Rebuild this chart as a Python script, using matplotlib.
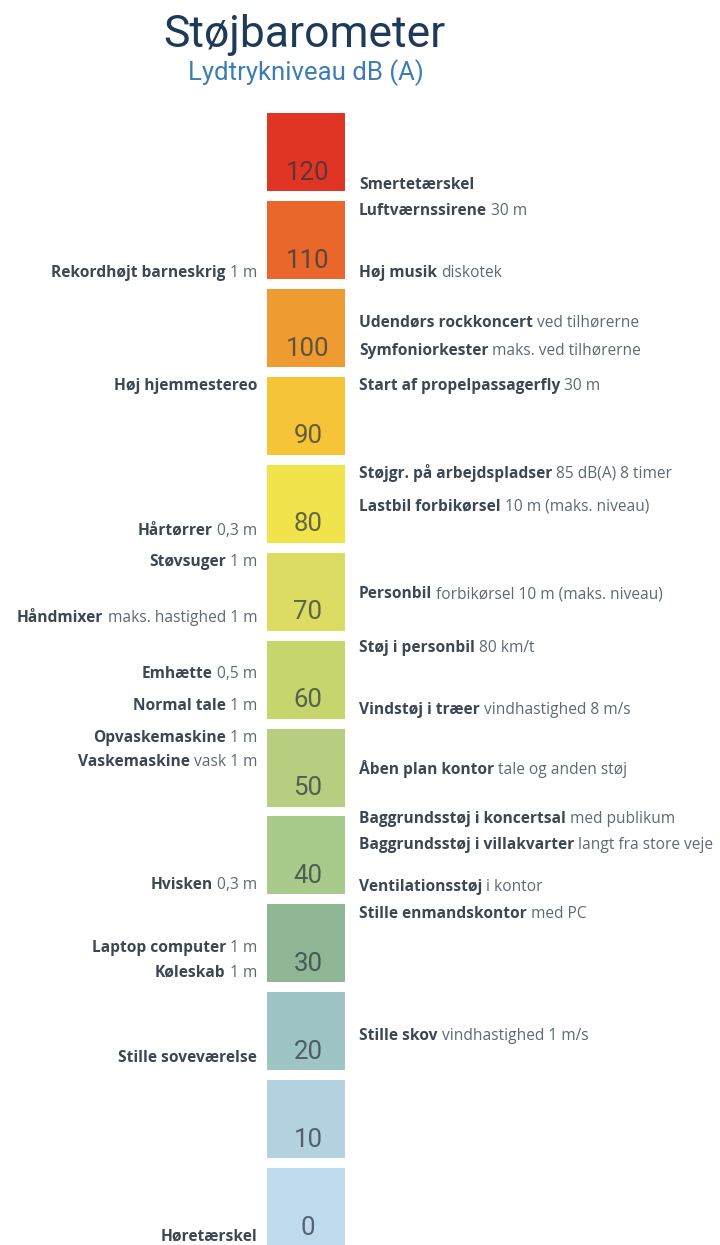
#!/usr/bin/env python3

import matplotlib
matplotlib.use("Agg")
import matplotlib.pyplot as plt

#-------------------------------------------------------------
# data
levels = [0, 10, 20, 30, 40, 50, 60, 70, 80, 90, 100, 110, 120]
levelColors = ["#c1dbee", "#b4d1df", "#9fc4c5", "#8fb795", "#a8cb8b",
               "#b7cd80", "#c6d66d", "#dcdc63", "#f1e34b", "#f5c437",
               "#ee9b31", "#e9672a", "#e03524"]

rightBold = ["Smertetærskel", "Luftværnssirene", "Høj musik",
             "Udendørs rockkoncert", "Symfoniorkester",
             "Start af propelpassagerfly", "Støjgr. på arbejdspladser",
             "Lastbil forbikørsel", "Personbil", "Støj i personbil",
             "Vindstøj i træer", "Åben plan kontor",
             "Baggrundsstøj i koncertsal", "Baggrundsstøj i villakvarter",
             "Ventilationsstøj", "Stille enmandskontor", "Stille skov"]
rightNormal = ["", "30 m", "diskotek", "ved tilhørerne",
               "maks. ved tilhørerne", "30 m", "85 dB(A) 8 timer",
               "10 m (maks. niveau)", "forbikørsel 10 m (maks. niveau)",
               "80 km/t", "vindhastighed 8 m/s", "tale og anden støj",
               "med publikum", "langt fra store veje", "i kontor",
               "med PC", "vindhastighed 1 m/s"]
rightDb = [120.2, 117.3, 110.2, 104.6, 101.4, 97.4, 87.4, 83.7, 73.7,
           67.6, 60.5, 53.7, 48.1, 45.2, 40.4, 37.3, 23.4]

leftBold = ["Rekordhøjt barneskrig", "Høj hjemmestereo", "Hårtørrer",
            "Støvsuger", "Håndmixer", "Emhætte", "Normal tale",
            "Opvaskemaskine", "Vaskemaskine", "Hvisken",
            "Laptop computer", "Køleskab", "Stille soveværelse",
            "Høretærskel"]
leftNormal = ["1 m", "", "0,3 m", "1 m", "maks. hastighed 1 m", "0,5 m",
              "1 m", "1 m", "vask 1 m", "0,3 m", "1 m", "1 m", "", ""]
leftDb = [110.2, 97.4, 80.9, 77.4, 71.0, 64.6, 61.0, 57.3, 54.6, 40.6,
          33.4, 30.6, 20.9, 0.6]

title = "Støjbarometer"
subtitle = "Lydtrykniveau dB (A)"

#-------------------------------------------------------------
FONT = "Open Sans"
LABEL_SIZE = 11.2
BOLD_COLOR = "#3b4752"
NORMAL_COLOR = "#5d6a73"
PX_PER_DB = 8.79


def main():
    fig = plt.figure(figsize=(7.2, 12.45), dpi=100)
    ax = fig.add_axes([0, 0, 1, 1])
    ax.set_xlim(0, 720)
    ax.set_ylim(1.0 / PX_PER_DB, 1246.0 / PX_PER_DB)
    ax.axis("off")

    #barometer blocks
    ax.bar([306] * len(levels), [78 / PX_PER_DB] * len(levels),
           bottom=levels, width=78, color=levelColors, align="center")
    for lv in levels:
        ax.text(308, lv + 2.1, str(lv), ha="center", va="center",
                fontsize=18.5, family="Roboto", color="#2b3640", alpha=0.72)

    #titles
    ax.text(304, 141.75 - 35 / PX_PER_DB, title, ha="center", va="center",
            fontsize=32, family="Roboto", color="#1d3b58")
    ax.text(306, 141.75 - 73 / PX_PER_DB, subtitle, ha="center",
            va="center", fontsize=18.5, family="Roboto", color="#3e7db3")

    fig.canvas.draw()
    renderer = fig.canvas.get_renderer()
    inv = ax.transData.inverted()

    def widthData(t):
        bb = t.get_window_extent(renderer)
        (x0, _), (x1, _) = inv.transform([(bb.x0, 0), (bb.x1, 0)])
        return x1 - x0

    #right hand labels
    for b, n, y in zip(rightBold, rightNormal, rightDb):
        t = ax.text(359, y, b, ha="left", va="baseline", fontsize=LABEL_SIZE,
                    family=FONT, weight="bold", color=BOLD_COLOR)
        if n:
            ax.text(359 + widthData(t) + 4, y, n, ha="left", va="baseline",
                    fontsize=LABEL_SIZE, family=FONT, color=NORMAL_COLOR)

    #left hand labels
    for b, n, y in zip(leftBold, leftNormal, leftDb):
        x = 257
        if n:
            t = ax.text(x, y, n, ha="right", va="baseline",
                        fontsize=LABEL_SIZE, family=FONT, color=NORMAL_COLOR)
            x -= widthData(t) + 4
        ax.text(x, y, b, ha="right", va="baseline", fontsize=LABEL_SIZE,
                family=FONT, weight="bold", color=BOLD_COLOR)

    fig.savefig("out.png", dpi=100)
    plt.close(fig)

#-------------------------------------------------------------
if __name__ == "__main__":
    main()
